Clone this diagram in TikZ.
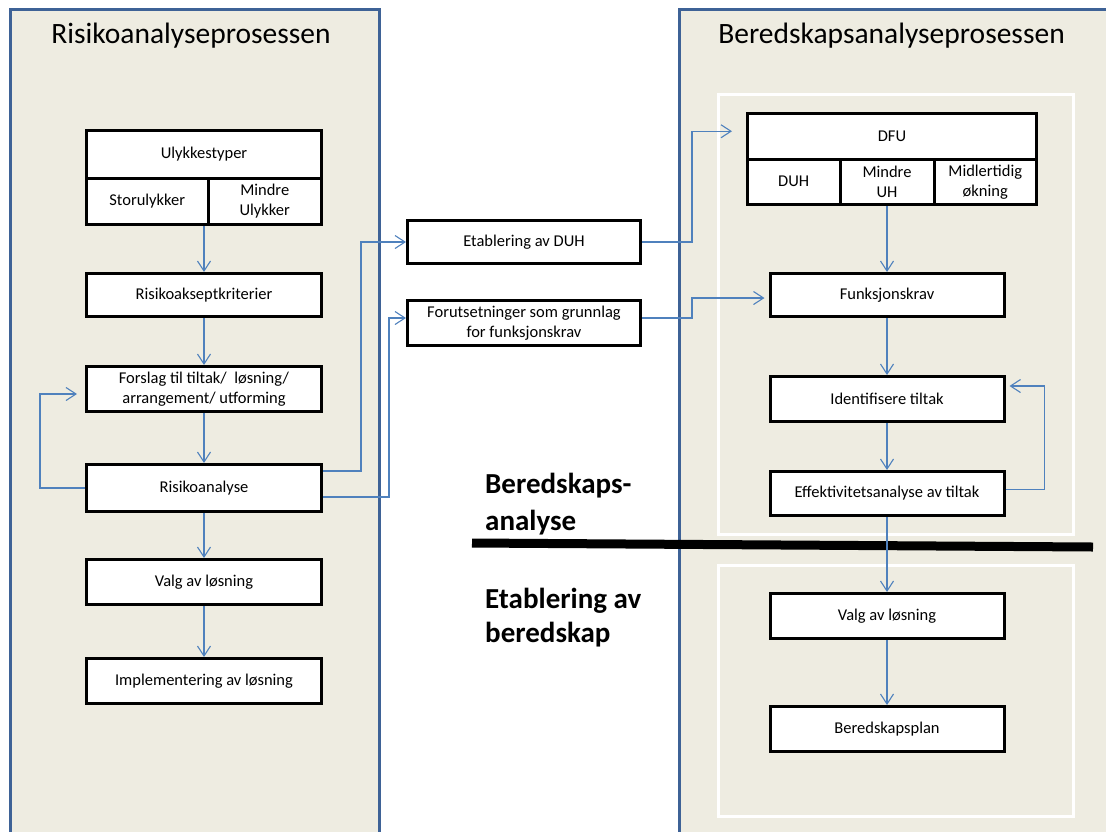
\documentclass[tikz,border=0pt]{standalone}
\usepackage{fontspec}
\setmainfont{Carlito}
\usetikzlibrary{arrows.meta}
\definecolor{panelfill}{RGB}{238,236,225}
\definecolor{panelline}{RGB}{62,98,150}
\definecolor{conncol}{RGB}{79,129,189}
\newcommand\boxfont{\fontsize{16.5}{20}\selectfont}
\newcommand\titlefont{\fontsize{29.5}{36}\selectfont}
\newcommand\phasefont{\bfseries\fontsize{29}{36}\selectfont}
\tikzset{
  panel/.style={draw=panelline, line width=3pt, fill=panelfill},
  whiteframe/.style={draw=white, line width=3pt},
  box/.style={draw=black, line width=3pt, fill=white, rectangle, inner sep=0pt,
              align=center, font=\boxfont, minimum width=#1},
  box/.default=235pt,
  conn/.style={draw=conncol, line width=1.1pt,
               -{Straight Barb[length=10pt,width=13pt]}},
  phase/.style={anchor=base west, inner sep=0pt, font=\phasefont},
}
\begin{document}
\begin{tikzpicture}[x=1pt,y=-1pt]
\useasboundingbox (0,0) rectangle (1106,831);
\clip (0,0) rectangle (1106,831);

% process panels
\draw[panel] (10.5,9) rectangle (379,845);
\draw[panel] (679,9) rectangle (1120,845);
\draw[whiteframe] (718.5,94) rectangle (1073.5,534);
\draw[whiteframe] (718.5,565) rectangle (1073.5,816);

\node[anchor=base, inner sep=0pt, font=\titlefont] (titleL) at (191,43) {Risikoanalyseprosessen};
\node[anchor=base, inner sep=0pt, font=\titlefont] (titleR) at (891.5,43) {Beredskapsanalyseprosessen};

% phase separator
\draw[line width=9pt] (472,543) -- (1093,547);
\node[phase] (ph1a) at (485,493) {Beredskaps-};
\node[phase] (ph1b) at (485,530) {analyse};
\node[phase] (ph2a) at (485,608) {Etablering av};
\node[phase] (ph2b) at (485,642) {beredskap};

% left column
\node[box, minimum height=47.5pt] (ulyk) at (204,154.25) {Ulykkestyper};
\node[box=121.5pt, minimum height=46.5pt] (stor) at (147.25,201.25) {Storulykker};
\node[box=113.5pt, minimum height=46.5pt] (mindre) at (264.75,201.25) {Mindre\\Ulykker};
\node[box, minimum height=43pt] (krit) at (204,295) {Risikoakseptkriterier};
\node[box, minimum height=45pt] (forslag) at (204,389) {Forslag til tiltak/\ \ løsning/\\arrangement/ utforming};
\node[box, minimum height=47pt] (risk) at (204,488) {Risikoanalyse};
\node[box, minimum height=45pt] (valgL) at (204,582) {Valg av løsning};
\node[box, minimum height=45pt] (impl) at (204,681) {Implementering av løsning};

% middle column
\node[box=233pt, minimum height=43pt] (etab) at (524,242) {Etablering av DUH};
\node[box=233pt, minimum height=45pt] (fut) at (524,323) {Forutsetninger som grunnlag\\for funksjonskrav};

% right column
\node[box=289pt, minimum height=45.5pt] (dfu) at (892,136.25) {DFU};
\node[box=92.5pt, minimum height=45.5pt] (duh) at (793.75,181.75) {DUH};
\node[box=94pt, minimum height=45.5pt] (muh) at (887,181.75) {Mindre\\UH};
\node[box=102.5pt, minimum height=45.5pt] (midl) at (985.25,181.75) {Midlertidig\\økning};
\node[box=234pt, minimum height=43pt] (funk) at (887,295) {Funksjonskrav};
\node[box=234pt, minimum height=45pt] (ident) at (887,399) {Identifisere tiltak};
\node[box=234pt, minimum height=44pt] (eff) at (887,493.5) {Effektivitetsanalyse av tiltak};
\node[box=234pt, minimum height=45pt] (valgR) at (887,616) {Valg av løsning};
\node[box=234pt, minimum height=45pt] (plan) at (887,729) {Beredskapsplan};

% left flow
\draw[conn] (krit.north |- stor.south) -- (krit.north);
\draw[conn] (krit) -- (forslag);
\draw[conn] (forslag) -- (risk);
\draw[conn] (risk) -- (valgL);
\draw[conn] (valgL) -- (impl);
\draw[conn, shorten >=8pt] (risk.west) -- ++(-45,0) |- ([yshift=-5pt]forslag.west);

% links into the middle column
\draw[conn] ([yshift=17pt]risk.east) -- ++(38,0) |- (etab.west);
\draw[conn] ([yshift=-9pt]risk.east) -- ++(66,0) |- ([yshift=5pt]fut.west);

% links into the preparedness process
\draw[conn, shorten >=14pt] (etab.east) -- ++(50,0) |- ([yshift=5pt]dfu.west);
\draw[conn, shorten >=4pt] ([yshift=5pt]fut.east) -- ++(50,0) |- ([yshift=-3pt]funk.west);

% right flow
\draw[conn] (funk.north |- muh.south) -- (funk.north);
\draw[conn] (funk) -- (ident);
\draw[conn] (ident) -- (eff);
\draw[conn] (eff) -- (valgR);
\draw[conn] (valgR) -- (plan);
\draw[conn, shorten >=4pt] ([yshift=4pt]eff.east) -- ++(39,0) |- ([yshift=13pt]ident.east);
\end{tikzpicture}
\end{document}
